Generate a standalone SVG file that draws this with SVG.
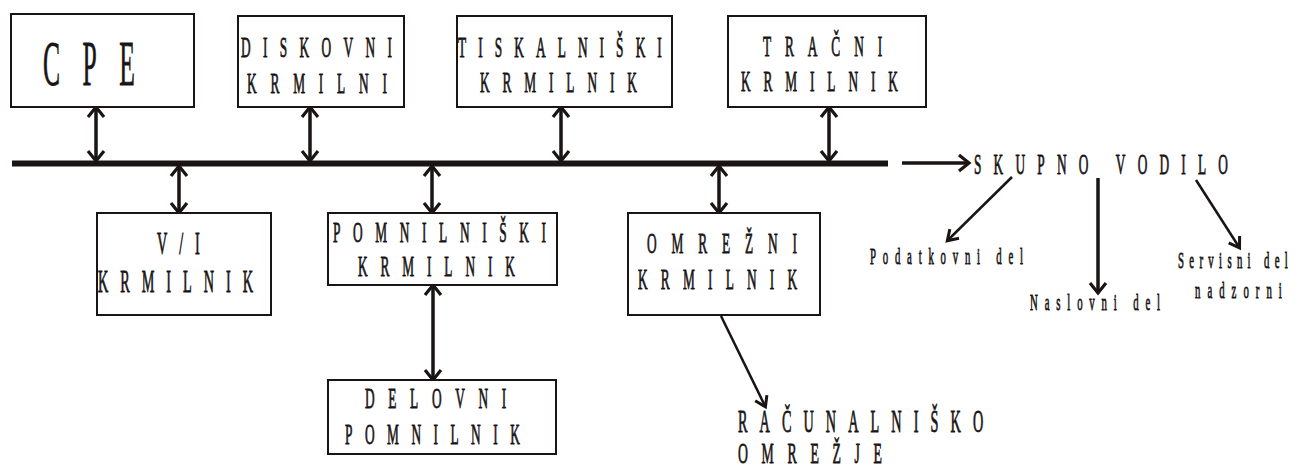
<svg xmlns="http://www.w3.org/2000/svg" width="1302" height="468" viewBox="0 0 1302 468">
  <style>
    .box { fill: #fff; stroke: #1a1414; stroke-width: 2; }
    .t { font-family: "Liberation Serif", "DejaVu Serif", serif; fill: #1a1414; stroke: #1a1414; stroke-width: 0.8; }
    .bus { stroke: #1a1414; stroke-width: 6; }
    .c { stroke: #1a1414; stroke-width: 3.5; fill: none; }
    .thin { stroke: #1a1414; stroke-width: 2.5; fill: none; }
  </style>
  <defs>
    <marker id="head" markerUnits="userSpaceOnUse" markerWidth="24" markerHeight="24" viewBox="-12 -12 24 24" refX="-1" refY="0" orient="auto-start-reverse" overflow="visible">
      <path d="M-10,-8 L0,0 L-10,8" fill="none" stroke="#1a1414" stroke-width="3.2"/>
    </marker>
    <marker id="headS" markerUnits="userSpaceOnUse" markerWidth="24" markerHeight="24" viewBox="-12 -12 24 24" refX="-1" refY="0" orient="auto" overflow="visible">
      <path d="M-10,-6.5 L0,0 L-10,6.5" fill="none" stroke="#1a1414" stroke-width="3"/>
    </marker>
  </defs>
  <rect width="1302" height="468" fill="#fff"/>

  <!-- system bus and all connectors -->
  <g id="connectors">
    <line class="bus" x1="12" y1="163.5" x2="888" y2="163.5"/>
    <line class="c" x1="96" y1="108" x2="96" y2="160" marker-start="url(#head)" marker-end="url(#head)"/>
    <line class="c" x1="310" y1="108" x2="310" y2="160" marker-start="url(#head)" marker-end="url(#head)"/>
    <line class="c" x1="561" y1="108" x2="561" y2="160" marker-start="url(#head)" marker-end="url(#head)"/>
    <line class="c" x1="829" y1="108" x2="829" y2="160" marker-start="url(#head)" marker-end="url(#head)"/>
    <line class="c" x1="179" y1="167" x2="179" y2="212" marker-start="url(#head)" marker-end="url(#head)"/>
    <line class="c" x1="432" y1="167" x2="432" y2="212" marker-start="url(#head)" marker-end="url(#head)"/>
    <line class="c" x1="719" y1="167" x2="719" y2="212" marker-start="url(#head)" marker-end="url(#head)"/>
    <line class="c" x1="433" y1="286" x2="433" y2="379" marker-start="url(#head)" marker-end="url(#head)"/>
    <line class="thin" x1="721" y1="316" x2="765" y2="406" marker-end="url(#headS)"/>
    <line class="c" x1="902" y1="163" x2="968" y2="163" marker-end="url(#head)"/>
    <line class="thin" x1="1012" y1="177" x2="948" y2="240" marker-end="url(#headS)"/>
    <line class="c" x1="1098" y1="178" x2="1098" y2="292" marker-end="url(#head)"/>
    <line class="thin" x1="1196" y1="180" x2="1239" y2="247" marker-end="url(#headS)"/>
  </g>

  <g id="cpe">
    <rect class="box" x="11" y="14" width="183" height="93"/>
    <text class="t" font-size="64" transform="translate(43,85) scale(0.4,1)" textLength="230" lengthAdjust="spacing">CPE</text>
  </g>

  <g id="diskovni">
    <rect class="box" x="238" y="16" width="166" height="91"/>
    <text class="t" font-size="29" transform="translate(241,57) scale(0.46,1)" textLength="328" lengthAdjust="spacing">DISKOVNI</text>
    <text class="t" font-size="29" transform="translate(247,93) scale(0.46,1)" textLength="304" lengthAdjust="spacing">KRMILNI</text>
  </g>

  <g id="tiskalniski">
    <rect class="box" x="457" y="16" width="215" height="91"/>
    <text class="t" font-size="29" transform="translate(458,57) scale(0.46,1)" textLength="443" lengthAdjust="spacing">TISKALNIŠKI</text>
    <text class="t" font-size="29" transform="translate(480,92) scale(0.46,1)" textLength="341" lengthAdjust="spacing">KRMILNIK</text>
  </g>

  <g id="tracni">
    <rect class="box" x="728" y="16" width="198" height="91"/>
    <text class="t" font-size="29" transform="translate(763,56) scale(0.46,1)" textLength="259" lengthAdjust="spacing">TRAČNI</text>
    <text class="t" font-size="29" transform="translate(741,91) scale(0.46,1)" textLength="341" lengthAdjust="spacing">KRMILNIK</text>
  </g>

  <g id="vi">
    <rect class="box" x="97" y="213" width="174" height="102"/>
    <text class="t" font-size="31" transform="translate(157,254) scale(0.46,1)" textLength="93" lengthAdjust="spacing">V/I</text>
    <text class="t" font-size="31" transform="translate(98,292) scale(0.46,1)" textLength="337" lengthAdjust="spacing">KRMILNIK</text>
  </g>

  <g id="pomnilniski">
    <rect class="box" x="328" y="213" width="229" height="72"/>
    <text class="t" font-size="29" transform="translate(333,242) scale(0.46,1)" textLength="463" lengthAdjust="spacing">POMNILNIŠKI</text>
    <text class="t" font-size="29" transform="translate(358,276) scale(0.46,1)" textLength="341" lengthAdjust="spacing">KRMILNIK</text>
  </g>

  <g id="delovni">
    <rect class="box" x="328" y="380" width="228" height="74"/>
    <text class="t" font-size="29" transform="translate(365,408) scale(0.46,1)" textLength="307" lengthAdjust="spacing">DELOVNI</text>
    <text class="t" font-size="29" transform="translate(345,444) scale(0.46,1)" textLength="380" lengthAdjust="spacing">POMNILNIK</text>
  </g>

  <g id="omrezni">
    <rect class="box" x="628" y="213" width="192" height="102"/>
    <text class="t" font-size="29" transform="translate(647,253) scale(0.46,1)" textLength="326" lengthAdjust="spacing">OMREŽNI</text>
    <text class="t" font-size="29" transform="translate(638,289) scale(0.46,1)" textLength="346" lengthAdjust="spacing">KRMILNIK</text>
  </g>

  <g id="racunalnisko-omrezje">
    <text class="t" font-size="31" transform="translate(738,432) scale(0.46,1)" textLength="533" lengthAdjust="spacing">RAČUNALNIŠKO</text>
    <text class="t" font-size="30" transform="translate(738,463) scale(0.46,1)" textLength="313" lengthAdjust="spacing">OMREŽJE</text>
  </g>

  <g id="skupno-vodilo">
    <text class="t" font-size="29" transform="translate(974,174) scale(0.46,1)" textLength="552" lengthAdjust="spacing">SKUPNO VODILO</text>
  </g>

  <g id="podatkovni">
    <text class="t" font-size="24" stroke-width="0.4" transform="translate(870,264) scale(0.45,1)" textLength="340" lengthAdjust="spacing">Podatkovni del</text>
  </g>

  <g id="naslovni">
    <text class="t" font-size="24" stroke-width="0.4" transform="translate(1030,310) scale(0.45,1)" textLength="289" lengthAdjust="spacing">Naslovni del</text>
  </g>

  <g id="servisni">
    <text class="t" font-size="24" stroke-width="0.4" transform="translate(1178,268) scale(0.45,1)" textLength="244" lengthAdjust="spacing">Servisni del</text>
    <text class="t" font-size="24" stroke-width="0.4" transform="translate(1195,298) scale(0.45,1)" textLength="193" lengthAdjust="spacing">nadzorni</text>
  </g>
</svg>
